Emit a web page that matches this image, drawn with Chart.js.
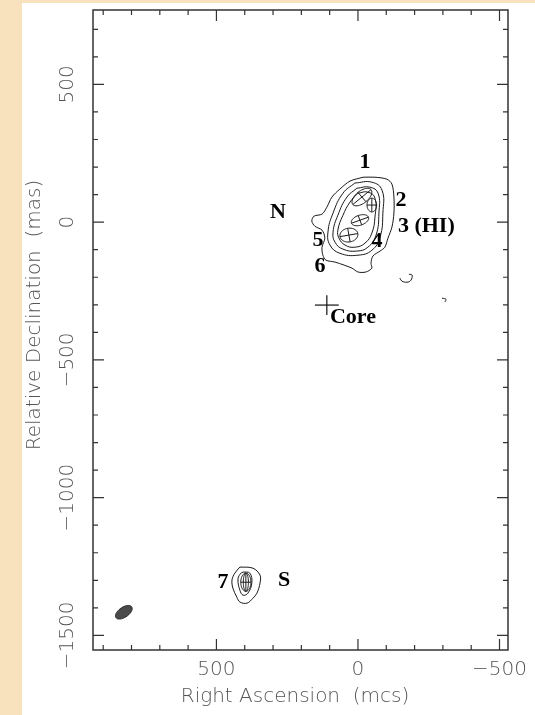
<!DOCTYPE html>
<html>
<head>
<meta charset="utf-8">
<script src="https://cdn.jsdelivr.net/npm/chart.js@4.4.1/dist/chart.umd.min.js"></script>
<style>
  html, body { margin: 0; padding: 0; background: #f7e2bd; }
  #wrap { width: 535px; height: 715px; }
</style>
</head>
<body>
<div id="wrap"><canvas id="canvas" width="535" height="715"></canvas></div>
<script>
// axis ranges in mas (RA runs right to left)
const raMin = -530, raMax = 936;
const decMin = -1553, decMax = 770;
const raMajor = [500, 0, -500];
const decMajor = [500, 0, -500, -1000, -1500];

// northern source contours, [RA, Dec] in mas
const northOuter = [
  [-18, 163], [-60, 163], [-102, 156], [-120, 138], [-127, 91], [-127, 33],
  [-120, -18], [-106, -58], [-95, -91], [-78, -105], [-53, -123], [-46, -149],
  [-49, -167], [-28, -181], [0, -181], [21, -167], [49, -156], [81, -145],
  [113, -138], [124, -120], [127, -91], [117, -58], [127, -29], [152, -15],
  [163, 4], [155, 22], [127, 29], [110, 54], [92, 91], [64, 120], [28, 149]
];
const northC2 = [
  [11, 142], [-49, 145], [-85, 116], [-88, 33], [-78, -54], [-49, -102],
  [0, -120], [64, -113], [99, -83], [106, -36], [88, 33], [53, 105]
];
const northC3 = [
  [4, 123], [-42, 127], [-71, 105], [-74, 33], [-64, -47], [-35, -91],
  [4, -105], [53, -98], [81, -73], [88, -36], [71, 25], [39, 91]
];
const northC4 = [
  [0, 105], [-35, 109], [-60, 87], [-60, 18], [-49, -40], [-25, -76],
  [11, -91], [46, -83], [67, -58], [71, -29], [53, 25], [28, 73]
];
// faint blobs east of the core
const blobA = [[-180, -189], [-191, -192], [-187, -211], [-173, -218], [-155, -214], [-148, -203]];
const blobB = [[-297, -276], [-311, -280], [-307, -290]];

// southern source contours
const southOuter = [
  [417, -1252], [371, -1256], [346, -1281], [346, -1310], [357, -1347], [371, -1365],
  [392, -1383], [417, -1379], [428, -1361], [442, -1328], [445, -1299], [435, -1274]
];
const southInner = [
  [406, -1270], [382, -1274], [375, -1310], [389, -1347], [406, -1354],
  [417, -1336], [424, -1299], [417, -1278]
];

// model components: RA, Dec, semi-major, semi-minor (mas), PA (deg)
const compRA = [-14, -49, -7, 32, 396];
const compDec = [91, 62, 7, -47, -1307];
const compMaj = [42, 25, 32, 32, 33];
const compMin = [22, 17, 18, 25, 18];
const compPA = [-50, 0, -70, -80, 0];

// restoring beam
const beam = { ra: 827, dec: -1416, maj: 34, min: 18, pa: -54 };

// core position and text labels
const core = [110, -301];
const labelText = ["1", "2", "3 (HI)", "N", "5", "4", "6", "Core", "7", "S"];
const labelRA = [-25, -152, -141, 283, 141, -67, 134, 99, 477, 261];
const labelDec = [218, 80, -15, 36, -65, -69, -160, -345, -1307, -1299];
const labelAlign = ["center", "center", "left", "center", "center", "center", "center", "left", "center", "center"];

function closed(pts) {
  const out = pts.map(p => ({ x: p[0], y: p[1] }));
  out.push({ x: pts[0][0], y: pts[0][1] });
  return out;
}

function contour(pts, tension, isClosed = true) {
  return {
    data: isClosed ? closed(pts) : pts.map(p => ({ x: p[0], y: p[1] })),
    showLine: true,
    borderColor: "#1a1a1a",
    borderWidth: 1,
    pointRadius: 0,
    tension: tension,
    fill: false
  };
}

const bgPlugin = {
  id: "paper",
  beforeDraw(chart) {
    const ctx = chart.ctx;
    ctx.save();
    ctx.fillStyle = "#f7e2bd";
    ctx.fillRect(0, 0, chart.width, chart.height);
    ctx.fillStyle = "#ffffff";
    ctx.fillRect(22, 3, chart.width - 22, chart.height - 3);
    ctx.restore();
  }
};

function ellipsePath(ctx, xs, ys, ra, dec, a, b, pa) {
  const r = pa * Math.PI / 180;
  const u = [Math.sin(r), Math.cos(r)];
  const v = [Math.cos(r), -Math.sin(r)];
  ctx.beginPath();
  for (let i = 0; i <= 48; i++) {
    const t = i / 48 * Math.PI * 2;
    const px = xs.getPixelForValue(ra + a * Math.cos(t) * u[0] + b * Math.sin(t) * v[0]);
    const py = ys.getPixelForValue(dec + a * Math.cos(t) * u[1] + b * Math.sin(t) * v[1]);
    if (i === 0) ctx.moveTo(px, py); else ctx.lineTo(px, py);
  }
  ctx.closePath();
  return { u, v };
}

function segment(ctx, xs, ys, x1, y1, x2, y2) {
  ctx.beginPath();
  ctx.moveTo(xs.getPixelForValue(x1), ys.getPixelForValue(y1));
  ctx.lineTo(xs.getPixelForValue(x2), ys.getPixelForValue(y2));
  ctx.stroke();
}

const framePlugin = {
  id: "frame",
  afterDatasetsDraw(chart) {
    const ctx = chart.ctx;
    const xs = chart.scales.x, ys = chart.scales.y;
    const a = chart.chartArea;
    ctx.save();

    // model components with axis crosses
    ctx.strokeStyle = "#1a1a1a";
    ctx.lineWidth = 1;
    for (let i = 0; i < compRA.length; i++) {
      const ax = ellipsePath(ctx, xs, ys, compRA[i], compDec[i], compMaj[i], compMin[i], compPA[i]);
      ctx.stroke();
      const u = ax.u, v = ax.v;
      segment(ctx, xs, ys, compRA[i] - compMaj[i] * u[0], compDec[i] - compMaj[i] * u[1],
        compRA[i] + compMaj[i] * u[0], compDec[i] + compMaj[i] * u[1]);
      segment(ctx, xs, ys, compRA[i] - compMin[i] * v[0], compDec[i] - compMin[i] * v[1],
        compRA[i] + compMin[i] * v[0], compDec[i] + compMin[i] * v[1]);
      if (i === 4) {
        ellipsePath(ctx, xs, ys, compRA[i], compDec[i], compMaj[i], compMin[i] * 0.5, compPA[i]);
        ctx.stroke();
      }
    }

    // beam
    ellipsePath(ctx, xs, ys, beam.ra, beam.dec, beam.maj, beam.min, beam.pa);
    ctx.fillStyle = "#4a4a4a";
    ctx.fill();
    ctx.strokeStyle = "#2a2a2a";
    ctx.stroke();

    // core cross
    ctx.strokeStyle = "#111";
    ctx.lineWidth = 1.2;
    segment(ctx, xs, ys, core[0] + 42, core[1], core[0] - 42, core[1]);
    segment(ctx, xs, ys, core[0], core[1] + 36, core[0], core[1] - 36);

    // labels
    ctx.fillStyle = "#000";
    ctx.font = "bold 22px 'Liberation Serif', 'DejaVu Serif', serif";
    ctx.textBaseline = "middle";
    for (let i = 0; i < labelText.length; i++) {
      ctx.textAlign = labelAlign[i];
      ctx.fillText(labelText[i], xs.getPixelForValue(labelRA[i]), ys.getPixelForValue(labelDec[i]));
    }

    // frame
    ctx.strokeStyle = "#333";
    ctx.lineWidth = 1.5;
    ctx.strokeRect(a.left, a.top, a.right - a.left, a.bottom - a.top);

    // inward ticks on all four sides
    ctx.lineWidth = 1.2;
    ctx.beginPath();
    for (let v = -500; v <= 900; v += 100) {
      const px = xs.getPixelForValue(v);
      const len = v % 500 === 0 ? 11 : 5;
      ctx.moveTo(px, a.bottom); ctx.lineTo(px, a.bottom - len);
      ctx.moveTo(px, a.top); ctx.lineTo(px, a.top + len);
    }
    for (let v = -1500; v <= 700; v += 100) {
      const py = ys.getPixelForValue(v);
      const len = v % 500 === 0 ? 11 : 5;
      ctx.moveTo(a.left, py); ctx.lineTo(a.left + len, py);
      ctx.moveTo(a.right, py); ctx.lineTo(a.right - len, py);
    }
    ctx.stroke();

    // tick labels
    const fmt = v => (v < 0 ? "\u2212" + Math.abs(v) : String(v));
    ctx.fillStyle = "#555";
    ctx.font = "200 20px 'DejaVu Sans', sans-serif";
    ctx.textAlign = "center";
    ctx.textBaseline = "middle";
    raMajor.forEach(v => ctx.fillText(fmt(v), xs.getPixelForValue(v), 670));
    decMajor.forEach(v => {
      ctx.save();
      ctx.translate(68, ys.getPixelForValue(v));
      ctx.rotate(-Math.PI / 2);
      ctx.fillText(fmt(v), 0, 0);
      ctx.restore();
    });

    // axis titles
    ctx.fillText("Right Ascension  (mcs)", 295, 697);
    ctx.save();
    ctx.translate(35, 315);
    ctx.rotate(-Math.PI / 2);
    ctx.fillText("Relative Declination  (mas)", 0, 0);
    ctx.restore();

    ctx.restore();
  }
};

const ctx = document.getElementById("canvas").getContext("2d");
const chart = new Chart(ctx, {
  type: "scatter",
  data: {
    datasets: [
      contour(northOuter, 0.3),
      contour(northC2, 0.45),
      contour(northC3, 0.45),
      contour(northC4, 0.45),
      contour(blobA, 0.4, false),
      contour(blobB, 0.4, false),
      contour(southOuter, 0.35),
      contour(southInner, 0.4)
    ]
  },
  options: {
    responsive: false,
    animation: false,
    layout: { padding: { left: 93, right: 27, top: 10, bottom: 65 } },
    plugins: { legend: { display: false }, tooltip: { enabled: false } },
    scales: {
      x: { type: "linear", reverse: true, min: raMin, max: raMax, display: false },
      y: { type: "linear", min: decMin, max: decMax, display: false }
    }
  },
  plugins: [bgPlugin, framePlugin]
});
</script>
</body>
</html>
